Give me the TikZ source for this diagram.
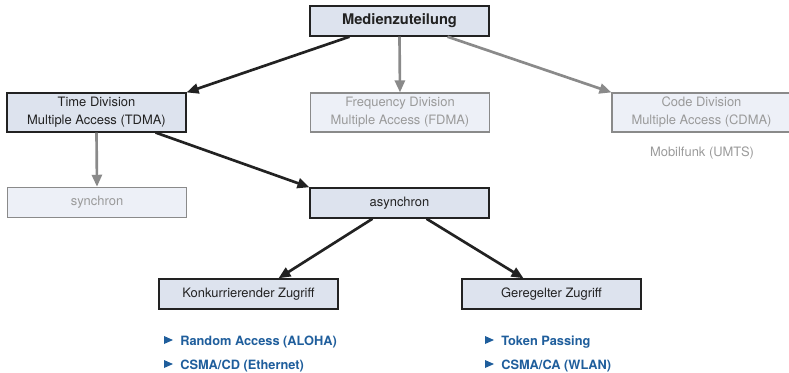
\documentclass[tikz,border=0pt]{standalone}
\usepackage{fontspec}
\setmainfont{TeX Gyre Heros}
\usetikzlibrary{arrows.meta,calc}

\definecolor{boxfill}{HTML}{DDE3EE}
\definecolor{greyfill}{HTML}{EDF0F7}
\definecolor{greyline}{HTML}{8A8A8A}
\definecolor{greytext}{HTML}{9A9A9A}
\definecolor{darkline}{HTML}{222222}
\definecolor{itemblue}{HTML}{1F5E9C}

\tikzset{
	box/.style={draw=darkline, line width=1.1pt, fill=boxfill, minimum width=134pt,
		minimum height=22.5pt, inner sep=0pt, align=center,
		font=\fontsize{9.7}{13.5}\selectfont, text=darkline},
	greybox/.style={box, draw=greyline, fill=greyfill, text=greytext},
	tall/.style={minimum height=29pt},
	strong/.style={draw=darkline, line width=2pt, -{Triangle[length=9pt,width=7.5pt]}},
	weak/.style={strong, draw=greyline},
	listitem/.style={anchor=west, inner sep=0pt, text=itemblue,
		font=\fontsize{9.6}{11}\selectfont\bfseries},
}

% small blue triangle in front of a list entry
\newcommand\itemmark[1]{\fill[itemblue] ($(#1.west)+(-16,-6)$) -- ++(0,8) -- ++(9,-4) -- cycle;}

\begin{document}
\begin{tikzpicture}[x=0.75pt, y=-0.75pt]
	\useasboundingbox (0,0) rectangle (789,372);

	\node [box, font=\fontsize{11}{13}\selectfont\bfseries] (top) at (399.5, 21) {Medienzuteilung};

	\node [box, tall] (tdma) at (96.5, 112.5) {Time Division\\Multiple Access (TDMA)};
	\node [greybox, tall] (fdma) at (400, 112.5) {Frequency Division\\Multiple Access (FDMA)};
	\node [greybox, tall] (cdma) at (701.5, 112.5) {Code Division\\Multiple Access (CDMA)};
	\node [text=greytext, font=\fontsize{9.7}{12}\selectfont] (umts) at (702, 153) {Mobilfunk (UMTS)};

	\node [greybox] (sync) at (97, 202.5) {synchron};
	\node [box] (async) at (399.5, 203) {asynchron};

	\node [box] (konk) at (248.5, 294) {Konkurrierender Zugriff};
	\node [box] (gereg) at (551.5, 294) {Geregelter Zugriff};

	\node [listitem] (aloha) at (180, 342) {Random Access (ALOHA)};
	\node [listitem] (csmacd) at (180, 366) {CSMA/CD (Ethernet)};
	\node [listitem] (token) at (501, 342) {Token Passing};
	\node [listitem] (csmaca) at (501, 366) {CSMA/CA (WLAN)};
	\itemmark{aloha}
	\itemmark{csmacd}
	\itemmark{token}
	\itemmark{csmaca}

	\draw [strong] ($(top.south west)+(40,0)$) -- (tdma.north east);
	\draw [weak] (top.south) -- (fdma.north);
	\draw [weak] ($(top.south east)+(-42,0)$) -- (cdma.north west);

	\draw [weak] (tdma.south) -- (sync.north);
	\draw [strong] ($(tdma.south east)+(-31,0)$) -- (async.north west);

	\draw [strong] ($(async.south)+(-27,0)$) -- ($(konk.north)+(30,0)$);
	\draw [strong] ($(async.south)+(27,0)$) -- ($(gereg.north)+(-28,0)$);
\end{tikzpicture}
\end{document}
